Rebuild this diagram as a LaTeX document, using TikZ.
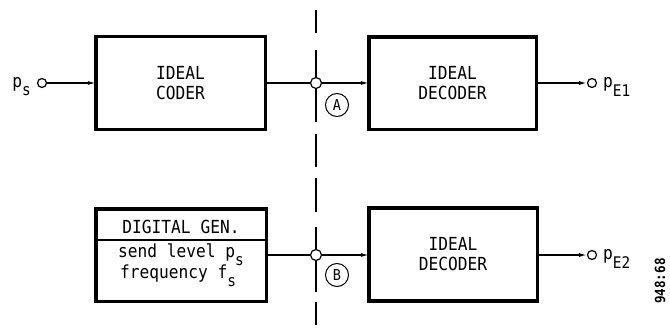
\documentclass[tikz,border=0pt]{standalone}
\usepackage{fontspec}
\setmainfont{DejaVu Sans Mono}[FakeStretch=0.9]
\usetikzlibrary{arrows.meta}
\newcommand{\lowsub}[1]{\raisebox{-0.45em}{\fontsize{16}{16}\selectfont #1}}
\tikzset{
  blk/.style={draw, line width=3.5pt, outer sep=0pt, align=center,
    font=\fontsize{18}{20}\selectfont},
  wire/.style={line width=1.2pt},
  arr/.style={wire, -{Latex[length=8pt,width=4pt]}},
  term/.style={circle, draw, line width=1.2pt, fill=white, inner sep=0pt, minimum size=9pt},
  junc/.style={circle, draw, line width=1.2pt, fill=white, inner sep=0pt, minimum size=11pt},
  tag/.style={circle, draw, line width=1pt, inner sep=0pt, minimum size=23pt, font=\fontsize{15}{15}\selectfont},
  txt/.style={inner sep=0pt, font=\fontsize{18}{20}\selectfont},
  cut/.style={line width=1.2pt}
}
\begin{document}
\begin{tikzpicture}[x=1pt,y=-1pt]
\useasboundingbox (0,0) rectangle (670,327);
% vertical cut line
\draw[cut] (316,10) -- (316,33);
\draw[cut] (316,50) -- (316,122);
\draw[cut] (316,134) -- (316,167);
\draw[cut] (316,178) -- (316,212);
\draw[cut] (316,227) -- (316,292);
\draw[cut] (316,302) -- (316,325);
% top row
\node[blk, minimum width=169.5pt, minimum height=93pt] (coder) at (180.5,83) {IDEAL\\CODER};
\node[blk, minimum width=167.5pt, minimum height=92.5pt] (dec1) at (452.5,83) {IDEAL\\DECODER};
\node[term] (in) at (42,83) {};
\node[txt, anchor=east] (ps) at (31,87) {p\lowsub{s}};
\node[junc] (ja) at (316,83) {};
\node[tag] (a) at (337,105) {A};
\node[term] (out1) at (592,83) {};
\node[txt, anchor=west] (pe1) at (603,87) {p\lowsub{E1}};
\draw[arr] (in) -- (coder);
\draw[wire] (coder) -- (ja);
\draw[arr] (ja) -- (dec1);
\draw[arr] (dec1) -- (out1);
% bottom row
\node[blk, minimum width=170.5pt, minimum height=92.5pt] (gen) at (181,255) {};
\draw[line width=1.5pt] (gen.west |- 0,240) -- (gen.east |- 0,240);
\node[txt] (gent) at (181,227) {DIGITAL GEN.};
\node[txt, anchor=base west] (lvl) at (118,257) {send level p\lowsub{s}};
\node[txt, anchor=base west] (frq) at (120,278) {frequency f\lowsub{s}};
\node[blk, minimum width=168.5pt, minimum height=93pt] (dec2) at (453,254.5) {IDEAL\\DECODER};
\node[junc] (jb) at (316,255) {};
\node[tag] (b) at (337,275) {B};
\node[term] (out2) at (592,255) {};
\node[txt, anchor=west] (pe2) at (603,259) {p\lowsub{E2}};
\draw[wire] (gen.east |- jb) -- (jb);
\draw[arr] (jb) -- (dec2.west |- jb);
\draw[arr] (dec2.east |- out2) -- (out2);
% figure number
\node[rotate=90, font=\fontsize{14}{14}\selectfont\bfseries] (fig) at (660,281) {948:68};
\end{tikzpicture}
\end{document}
